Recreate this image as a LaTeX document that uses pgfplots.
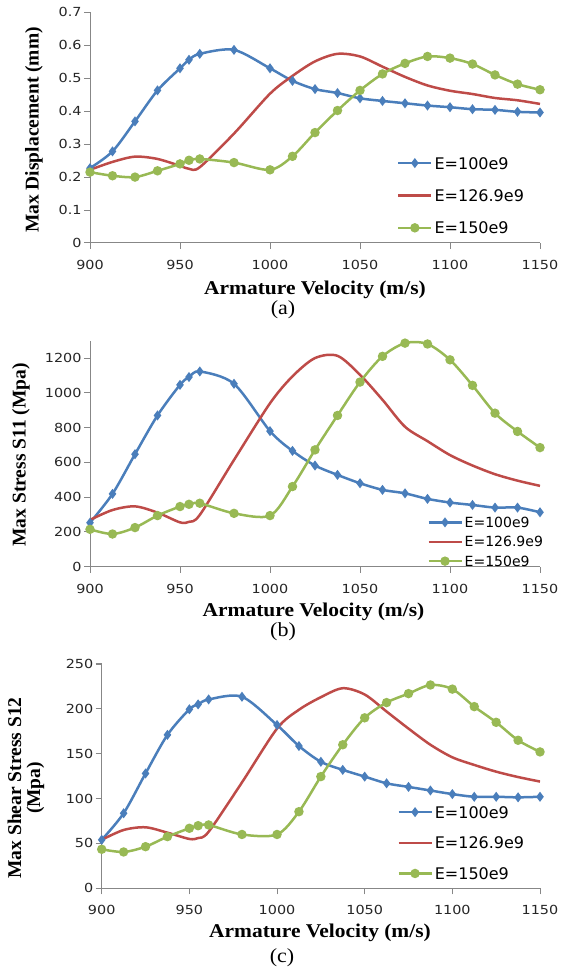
\documentclass[border=0pt]{standalone}
\usepackage{fontspec}
\setmainfont{Liberation Serif}
\newfontfamily\tickfont{DejaVu Sans}[FakeStretch=1.15]
\newfontfamily\legfont{DejaVu Sans}
\newfontfamily\labfont{Liberation Serif}[FakeStretch=1.1]
\usepackage{pgfplots}
\usepackage{pgfplotstable}
\pgfplotsset{compat=1.18}

\definecolor{cblue}{HTML}{4A7EBB}
\definecolor{cred}{HTML}{BE4B48}
\definecolor{cgreen}{HTML}{98B954}
\definecolor{axgray}{HTML}{878787}

% columns: a = displacement (mm), b = S11 (MPa), c = S12 (MPa)
\pgfplotstableread{
x      a      b     c
900    0.227  253   54
912.5  0.278  419   83.6
925    0.369  647   128
937.5  0.463  870   171
950    0.530  1046  199.5
955    0.556  1091  205
961    0.574  1123  210.5
980    0.586  1052  213.5
1000   0.530  780   182
1012.5 0.492  666   158.6
1025   0.467  582   141
1037.5 0.455  528   132
1050   0.439  480   124.5
1062.5 0.431  442   117
1075   0.424  422   113
1087.5 0.417  390   109
1100   0.412  369   105
1112.5 0.406  355   102
1125   0.404  340   102
1137.5 0.398  340   101.4
1150   0.396  313   102
}\blueT

\pgfplotstableread{
x      a      b     c
900    0.222  269   54
912.5  0.246  326   65
925    0.262  347   68
937.5  0.255  311   62
950    0.234  255   55
955    0.225  258   56
961    0.230  298   63
980    0.332  614   118
1000   0.453  940   178
1012.5 0.507  1095  199
1025   0.551  1200  213
1037.5 0.574  1213  223
1050   0.566  1104  216
1062.5 0.535  960   197
1075   0.504  805   178
1087.5 0.478  722   160
1100   0.462  642   146
1112.5 0.452  582   137.5
1125   0.440  532   130
1137.5 0.433  495   124
1150   0.422  465   119
}\redT

\pgfplotstableread{
x      a      b     c
900    0.215  215   43.5
912.5  0.204  188   40.5
925    0.200  225   46.4
937.5  0.219  294   57.6
950    0.240  346   66.9
955    0.251  359   69.8
961    0.255  365   70.6
980    0.244  307   60
1000   0.222  294   60
1012.5 0.263  461   85.4
1025   0.335  672   124.5
1037.5 0.402  870   160
1050   0.463  1062  190
1062.5 0.513  1210  207
1075   0.545  1286  217
1087.5 0.566  1281  226.6
1100   0.561  1190  222
1112.5 0.543  1043  202.5
1125   0.510  883   185
1137.5 0.482  778   165
1150   0.465  685   152
}\greenT

\pgfplotsset{
  base/.style={
    scale only axis, width=450pt,
    xmin=900, xmax=1150, xtick={900,950,...,1150}, ymin=0,
    axis x line=bottom, axis y line=left,
    axis line style={-, draw=axgray, line width=1pt},
    tick align=outside, major tick length=6pt,
    tick style={draw=axgray, line width=1pt},
    ticklabel style={font=\tickfont\fontsize{12.5}{15}\selectfont, text=black!85},
    xticklabel style={anchor=north, inner sep=0pt, yshift=-11pt},
    yticklabel style={anchor=east, inner sep=0pt, xshift=-2.3pt},
    /pgf/number format/assume math mode=true,
    /pgf/number format/1000 sep={},
    legend cell align=left,
    legend image code/.code={\draw[mark repeat=2,mark phase=2]
      plot coordinates {(0pt,0pt)(16.5pt,0pt)(33pt,0pt)};},
  },
  sb/.style={cblue, line width=2.5pt, smooth, mark=diamond*, mark size=3pt,
    mark options={solid, fill=cblue}},
  sr/.style={cred, line width=2.5pt, smooth, no markers},
  sg/.style={cgreen, line width=2.5pt, smooth, mark=*, mark size=3.4pt,
    mark options={solid, fill=cgreen}},
}

\begin{document}
\begin{tikzpicture}[x=1pt,y=1pt]
\path[use as bounding box] (0,0) rectangle (560,974);

% (a)
\begin{axis}[base, at={(90pt,731pt)}, anchor=south west, height=230.7pt,
  ymax=0.7, ytick={0,0.1,...,0.7},
  yticklabel style={/pgf/number format/fixed, /pgf/number format/precision=1},
  legend style={at={(0.682,0.373)}, anchor=north west, draw=none, fill=none,
    inner sep=0pt, row sep=20.5pt, column sep=2pt,
    font=\legfont\fontsize{16}{18}\selectfont,
    nodes={inner sep=0pt, text depth=0pt}}]
\addplot[sb] table[x=x,y=a]{\blueT};
\addlegendentry{E=100e9}
\addplot[sr] table[x=x,y=a]{\redT};
\addlegendentry{E=126.9e9}
\addplot[sg] table[x=x,y=a]{\greenT};
\addlegendentry{E=150e9}
\end{axis}
\node[font=\labfont\bfseries\fontsize{19.5}{22}\selectfont] at (315,684) {Armature Velocity (m/s)};
\node[font=\labfont\fontsize{20}{24}\selectfont] at (283,664) {(a)};
\node[rotate=90, font=\bfseries\fontsize{19.5}{22}\selectfont] at (34,844) {Max Displacement (mm)};

% (b)
\begin{axis}[base, at={(90pt,407.3pt)}, anchor=south west, height=226pt,
  ymax=1300, ytick={0,200,...,1200},
  legend style={at={(0.749,0.22)}, anchor=north west, draw=none, fill=none,
    inner sep=0pt, row sep=9pt, column sep=2pt,
    font=\legfont\fontsize{14}{16}\selectfont,
    nodes={inner sep=0pt, text depth=0pt}}]
\addplot[sb] table[x=x,y=b]{\blueT};
\addlegendentry{E=100e9}
\addplot[sr] table[x=x,y=b]{\redT};
\addlegendentry{E=126.9e9}
\addplot[sg] table[x=x,y=b]{\greenT};
\addlegendentry{E=150e9}
\end{axis}
\node[font=\labfont\bfseries\fontsize{19.5}{22}\selectfont] at (313.5,362.3) {Armature Velocity (m/s)};
\node[font=\labfont\fontsize{20}{24}\selectfont] at (283,342) {(b)};
\node[rotate=90, font=\bfseries\fontsize{19.5}{22}\selectfont] at (21,519) {Max Stress S11 (Mpa)};

% (c)
\begin{axis}[base, at={(101.7pt,85.7pt)}, anchor=south west, width=438.3pt, height=224.3pt,
  ymax=250, ytick={0,50,...,250},
  legend style={at={(0.674,0.367)}, anchor=north west, draw=none, fill=none,
    inner sep=0pt, row sep=18.8pt, column sep=2pt,
    font=\legfont\fontsize{16}{18}\selectfont,
    nodes={inner sep=0pt, text depth=0pt}}]
\addplot[sb] table[x=x,y=c]{\blueT};
\addlegendentry{E=100e9}
\addplot[sr] table[x=x,y=c]{\redT};
\addlegendentry{E=126.9e9}
\addplot[sg] table[x=x,y=c]{\greenT};
\addlegendentry{E=150e9}
\end{axis}
\node[font=\labfont\bfseries\fontsize{19.5}{22}\selectfont] at (320,41) {Armature Velocity (m/s)};
\node[font=\labfont\fontsize{20}{24}\selectfont] at (282,16) {(c)};
\node[rotate=90, align=center, font=\bfseries\fontsize{19.5}{19}\selectfont] at (26,186) {Max Shear Stress S12\\(Mpa)};
\end{tikzpicture}
\end{document}
